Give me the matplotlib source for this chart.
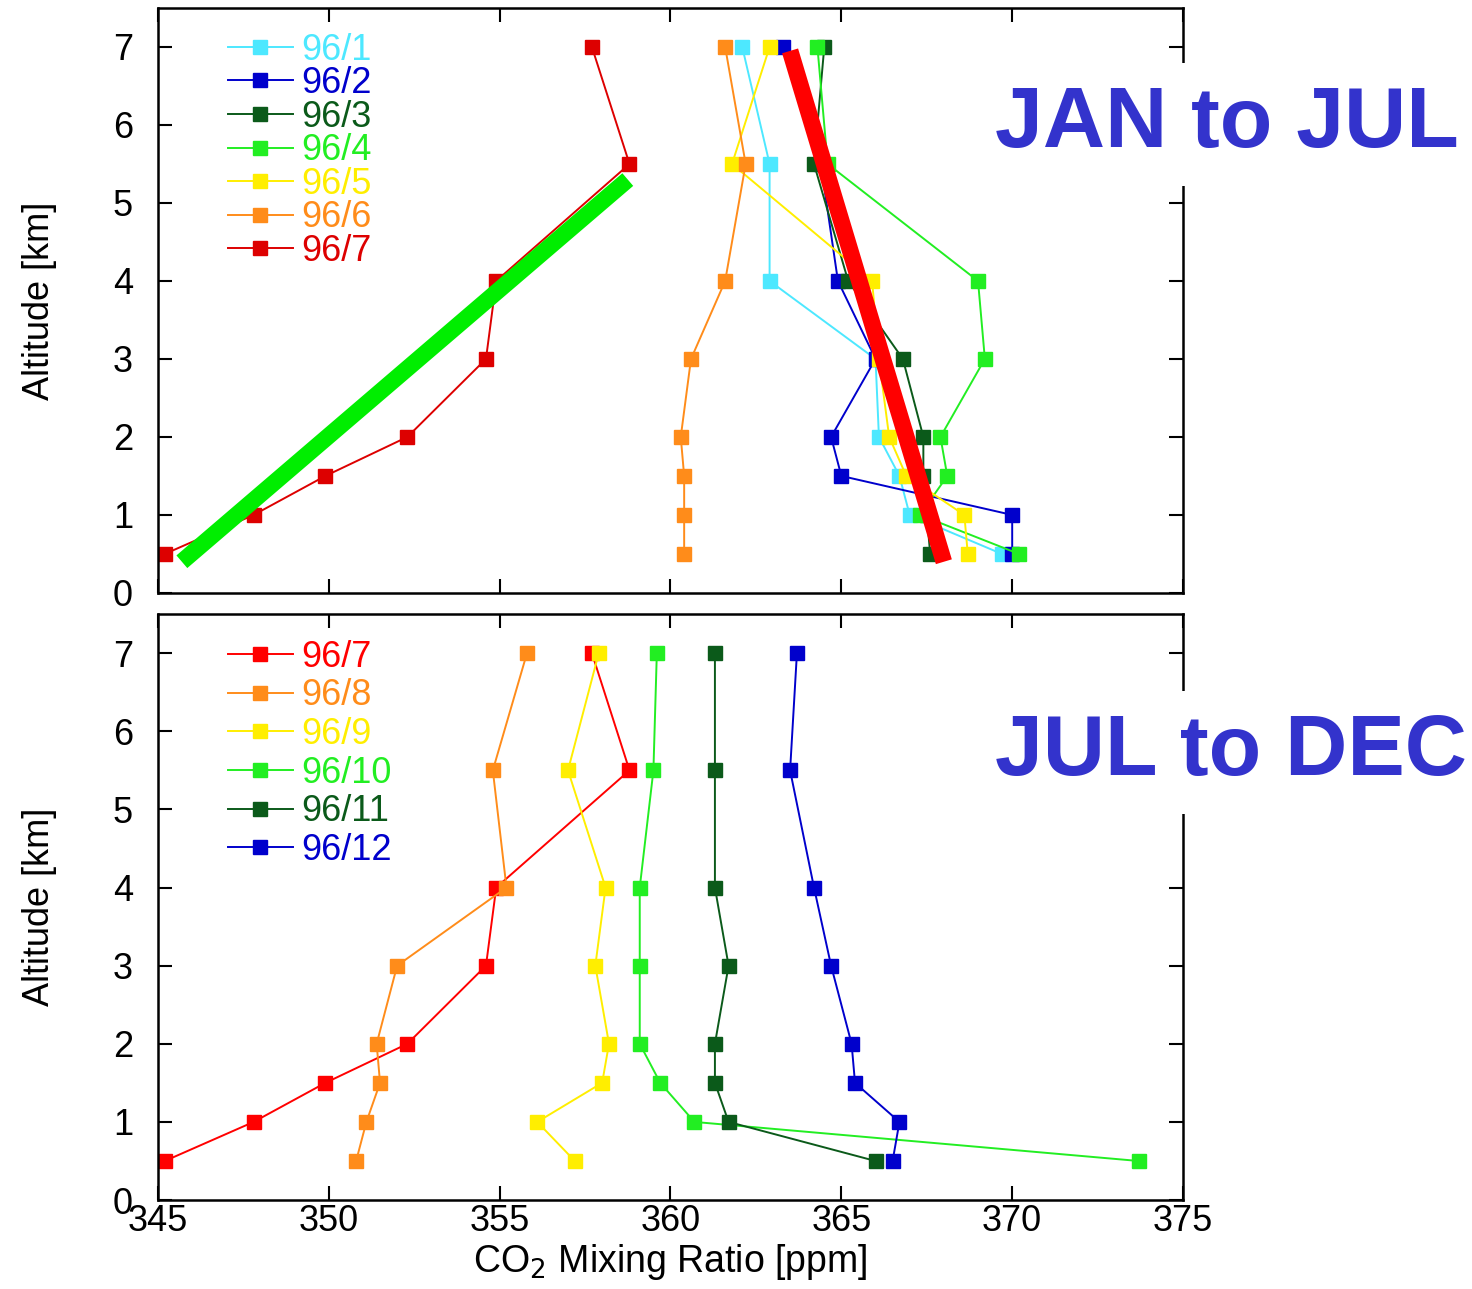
import numpy as np
import matplotlib
matplotlib.use("Agg")
import matplotlib.pyplot as plt

plt.rcParams['font.family'] = ['Liberation Sans', 'DejaVu Sans']

# altitudes of the profile levels [km]
alt = [7, 5.5, 4, 3, 2, 1.5, 1, 0.5]

# JAN to JUL profiles (CO2 ppm at each altitude)
jan_labels = ['96/1', '96/2', '96/3', '96/4', '96/5', '96/6', '96/7']
co2_96_1 = [362.1, 362.9, 362.9, 366.0, 366.1, 366.7, 367.0, 369.7]
co2_96_2 = [363.3, 364.4, 364.9, 366.0, 364.7, 365.0, 370.0, 370.0]
co2_96_3 = [364.5, 364.2, 365.2, 366.8, 367.4, 367.4, 367.5, 367.6]
co2_96_4 = [364.3, 364.6, 369.0, 369.2, 367.9, 368.1, 367.3, 370.2]
co2_96_5 = [362.9, 361.8, 365.9, 366.1, 366.4, 366.9, 368.6, 368.7]
co2_96_6 = [361.6, 362.2, 361.6, 360.6, 360.3, 360.4, 360.4, 360.4]
co2_96_7 = [357.7, 358.8, 354.9, 354.6, 352.3, 349.9, 347.8, 345.2]

# JUL to DEC profiles
jul_labels = ['96/7', '96/8', '96/9', '96/10', '96/11', '96/12']
co2_96_8 = [355.8, 354.8, 355.2, 352.0, 351.4, 351.5, 351.1, 350.8]
co2_96_9 = [357.9, 357.0, 358.1, 357.8, 358.2, 358.0, 356.1, 357.2]
co2_96_10 = [359.6, 359.5, 359.1, 359.1, 359.1, 359.7, 360.7, 373.7]
co2_96_11 = [361.3, 361.3, 361.3, 361.7, 361.3, 361.3, 361.7, 366.0]
co2_96_12 = [363.7, 363.5, 364.2, 364.7, 365.3, 365.4, 366.7, 366.5]

# hand-drawn trend bars (start/end points)
green_bar_x = [345.7, 358.75]
green_bar_y = [0.4, 5.3]
red_bar_x = [363.5, 368.0]
red_bar_y = [6.95, 0.4]

c_cyan = '#4de8ff'
c_blue = '#0000cc'
c_dkgreen = '#0b5a1a'
c_green = '#22ee22'
c_yellow = '#ffee00'
c_orange = '#ff8c1a'
c_red_top = '#dd0000'
c_red = '#ff0000'

fig = plt.figure(figsize=(14.72, 12.89), dpi=100)
ax1 = fig.add_axes([0.1073, 0.540, 0.6964, 0.4538])
ax2 = fig.add_axes([0.1073, 0.069, 0.6964, 0.4546])

lw = 1.4
ms = 10

top_series = [co2_96_1, co2_96_2, co2_96_3, co2_96_4, co2_96_5, co2_96_6, co2_96_7]
top_colors = [c_cyan, c_blue, c_dkgreen, c_green, c_yellow, c_orange, c_red_top]
for vals, col, lab in zip(top_series, top_colors, jan_labels):
    ax1.plot(vals, alt, '-s', color=col, lw=lw, ms=ms, label=lab, mec=col)

ax1.plot(green_bar_x, green_bar_y, color='#00ee00', lw=12, solid_capstyle='butt', zorder=5)
ax1.plot(red_bar_x, red_bar_y, color='#ff0000', lw=12, solid_capstyle='butt', zorder=5)

bot_series = [co2_96_7, co2_96_8, co2_96_9, co2_96_10, co2_96_11, co2_96_12]
bot_colors = [c_red, c_orange, c_yellow, c_green, c_dkgreen, c_blue]
for vals, col, lab in zip(bot_series, bot_colors, jul_labels):
    ax2.plot(vals, alt, '-s', color=col, lw=lw, ms=ms, label=lab, mec=col)

for ax in (ax1, ax2):
    ax.set_xlim(345, 375)
    ax.set_ylim(0, 7.5)
    ax.set_xticks(np.arange(345, 376, 5))
    ax.set_yticks(np.arange(0, 8, 1))
    ax.tick_params(direction='in', length=10, width=1.5, top=True, right=True,
                   labelsize=26, colors='black')
    ax.tick_params(axis='y', pad=18)
    ax.tick_params(axis='x', pad=3)
    for s in ax.spines.values():
        s.set_linewidth(1.8)
    ax.set_ylabel('Altitude [km]', fontsize=26, labelpad=40)

ax1.tick_params(labelbottom=False)
ax2.set_xlabel('CO$_2$ Mixing Ratio [ppm]', fontsize=27, labelpad=2)

leg1 = ax1.legend(loc='upper left', bbox_to_anchor=(0.068, 0.958), frameon=False,
                  fontsize=26, borderpad=0, labelspacing=-0.04, handlelength=1.8,
                  handletextpad=0.25, borderaxespad=0)
for t, col in zip(leg1.get_texts(), top_colors):
    t.set_color(col)

leg2 = ax2.legend(loc='upper left', bbox_to_anchor=(0.068, 0.956), frameon=False,
                  fontsize=26, borderpad=0, labelspacing=0.1, handlelength=1.8,
                  handletextpad=0.25, borderaxespad=0)
for t, col in zip(leg2.get_texts(), bot_colors):
    t.set_color(col)

box = dict(boxstyle='square,pad=0.25', fc='white', ec='none')
fig.text(0.676, 0.886, 'JAN to JUL', fontsize=62, fontweight='bold', color='#3333cc',
         ha='left', va='baseline', bbox=box, zorder=10)
fig.text(0.676, 0.3988, 'JUL to DEC', fontsize=62, fontweight='bold', color='#3333cc',
         ha='left', va='baseline', bbox=box, zorder=10)

fig.savefig('out.png', dpi=100)
